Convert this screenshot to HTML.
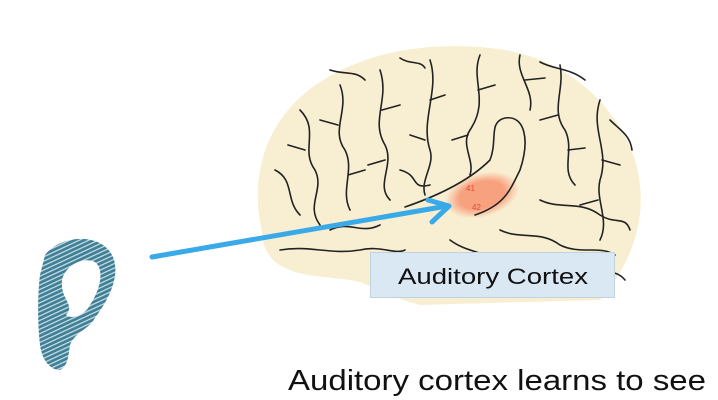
<!DOCTYPE html>
<html><head><style>
html,body{margin:0;padding:0;background:#fff;width:718px;height:400px;overflow:hidden}
</style></head><body>
<svg width="718" height="400" viewBox="0 0 718 400" xmlns="http://www.w3.org/2000/svg">
<defs>
<pattern id="h" width="4" height="4" patternUnits="userSpaceOnUse" patternTransform="rotate(-25)">
<rect width="4" height="4" fill="#3f7f96"/><rect y="2.6" width="4" height="1.2" fill="#cfe3ea"/>
</pattern>
<radialGradient id="o" cx="0.5" cy="0.5" r="0.5"><stop offset="0.6" stop-color="#f7a17f"/><stop offset="1" stop-color="#f7a17f" stop-opacity="0"/></radialGradient>
</defs>
<path d="M262,232 C250,180 262,120 320,82 C370,50 430,42 490,48 C560,54 615,100 635,160 C650,210 635,260 600,300 L420,305 C400,300 380,290 360,282 C330,275 300,280 275,262 C265,252 262,242 262,232 Z" fill="#f8efd2"/>
<ellipse cx="482" cy="195" rx="38" ry="22" fill="url(#o)" transform="rotate(-15 482 195)"/>
<g fill="none" stroke="#222" stroke-width="1.6" stroke-linecap="round">
<path d="M405,207 C440,195 470,180 490,160 C498,140 488,122 505,118 C525,115 530,140 520,170 C510,190 505,205 475,215"/>
<path d="M430,60 C440,90 420,120 430,150 C435,165 420,180 425,195 M430,100 L445,95 M425,140 L410,135"/>
<path d="M480,55 C470,80 490,100 470,130 C460,145 475,160 470,175 M478,90 L495,85 M468,135 L452,140"/>
<path d="M520,55 C515,75 535,90 530,110 M525,80 L545,78"/>
<path d="M560,65 C565,90 550,110 565,130 C575,150 560,170 575,185 M558,115 L540,120 M568,150 L585,148"/>
<path d="M600,100 C590,130 610,150 600,180 C595,200 610,220 600,240 M602,160 L620,165 M598,200 L580,205"/>
<path d="M380,70 C390,100 370,120 385,145 C395,165 375,185 390,200 M382,110 L400,105 M385,160 L368,165"/>
<path d="M340,85 C350,110 330,130 345,150 C355,170 340,190 350,210 M338,125 L320,120 M348,175 L365,170"/>
<path d="M300,110 C320,130 300,150 315,170 C325,190 305,205 320,225 M305,150 L288,145"/>
<path d="M275,170 C295,180 285,200 300,215"/>
<path d="M280,250 C310,245 330,255 360,250 C380,245 395,255 405,250"/>
<path d="M500,230 C520,240 540,230 560,245 C580,255 600,245 615,255"/>
<path d="M450,240 C470,255 490,250 510,270"/>
<path d="M540,200 C560,210 580,200 600,215 C615,225 625,215 630,230"/>
<path d="M400,170 C420,175 410,190 430,185"/>
<path d="M330,230 C350,220 360,235 380,225"/>
<path d="M590,270 C605,275 615,268 625,280"/>
<path d="M330,70 C345,75 355,70 365,80 M400,58 C410,65 420,60 425,68 M540,62 C555,70 570,68 585,80 M610,120 C620,130 630,135 632,150"/>
</g>
<text x="466" y="191" font-family="Liberation Sans" font-size="8" fill="#e43">41</text>
<text x="472" y="210" font-family="Liberation Sans" font-size="8" fill="#e43">42</text>
<rect x="370.5" y="252.5" width="244" height="45" fill="#d9e8f2" stroke="#c0d3e0"/>
<text x="398" y="284" textLength="190" lengthAdjust="spacingAndGlyphs" font-family="Liberation Sans" font-size="22" fill="#111">Auditory Cortex</text>
<g stroke="#3aa9e8" stroke-width="5" fill="none" stroke-linecap="round" stroke-linejoin="round">
<path d="M152,257 L447,206"/>
<path d="M428,200 L449,206 L432,222"/>
</g>
<path d="M45,255 C60,235 100,232 112,255 C122,275 108,300 95,318 C88,330 75,332 70,345 C68,358 68,365 60,370 C50,370 42,360 40,345 C37,320 38,290 40,275 Z M62,285 C60,270 80,255 95,262 C105,270 100,290 90,305 C85,315 72,320 66,315 C75,305 62,300 62,285 Z" fill="url(#h)" fill-rule="evenodd"/>
<text x="288" y="390" textLength="418" lengthAdjust="spacingAndGlyphs" font-family="Liberation Sans" font-size="29" fill="#111">Auditory cortex learns to see</text>
</svg>
</body></html>
